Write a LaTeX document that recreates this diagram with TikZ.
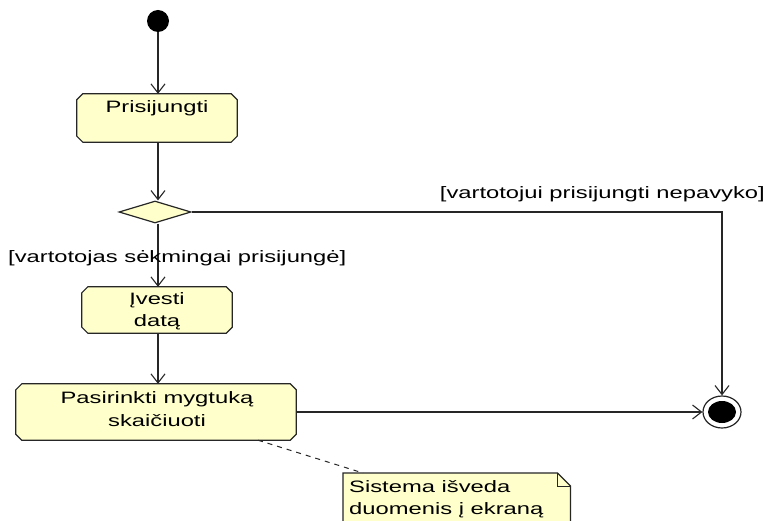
\documentclass[tikz,border=0pt]{standalone}
\usepackage{fontspec}
\setmainfont{Liberation Sans}[FakeStretch=1.44]
\usetikzlibrary{shapes.geometric,arrows.meta}
\definecolor{actfill}{HTML}{FFFFCC}
\definecolor{edgecol}{HTML}{262626}
\tikzset{
  flow/.style={draw=edgecol, line width=1.2pt,
    -{Straight Barb[length=9pt,width=14pt,line width=1.1pt]}},
  action/.style={rectangle, inner sep=0pt},
  boxline/.style={draw=edgecol, line width=1.2pt, fill=actfill},
  lbl/.style={font=\fontsize{16.5}{22.5}\selectfont, inner sep=0pt, text=black},
  notelink/.style={draw=edgecol, line width=1pt, dash pattern=on 5pt off 5pt},
}
% outline of an action box with cut corners, drawn round a named node
\newcommand\actionoutline[1]{%
  \draw[boxline]
    ([xshift=6pt]#1.north west) -- ([xshift=-6pt]#1.north east)
    -- ([yshift=-6pt]#1.north east) -- ([yshift=6pt]#1.south east)
    -- ([xshift=-6pt]#1.south east) -- ([xshift=6pt]#1.south west)
    -- ([yshift=6pt]#1.south west) -- ([yshift=-6pt]#1.north west) -- cycle;}
\begin{document}
\begin{tikzpicture}[x=1pt,y=-1pt]
  \clip (0,0) rectangle (768,521);
  \fill[white] (0,0) rectangle (768,521);

  % initial and final states
  \node[circle, fill=black, minimum size=22pt, inner sep=0pt] (start) at (158,21) {};
  \node[ellipse, draw=edgecol, line width=1.2pt, fill=white,
        minimum width=38pt, minimum height=32pt, inner sep=0pt] (final) at (722,412) {};
  \node[ellipse, fill=black, minimum width=28pt, minimum height=22pt, inner sep=0pt]
        (finalDot) at (final.center) {};

  % actions
  \node[action, minimum width=160pt, minimum height=48pt] (login) at (157,118) {};
  \actionoutline{login}
  \node[lbl, anchor=north] (loginText) at (157,100) {Prisijungti};

  \node[diamond, draw=edgecol, line width=1.2pt, fill=actfill,
        minimum width=72pt, minimum height=22pt, inner sep=0pt] (choice) at (155,212) {};

  \node[action, minimum width=150pt, minimum height=46pt] (enter) at (157,310) {};
  \actionoutline{enter}
  \node[lbl, align=center] (enterText) at (157,311) {Įvesti\\datą};

  \node[action, minimum width=280pt, minimum height=56pt] (pick) at (156,412) {};
  \actionoutline{pick}
  \node[lbl, align=center] (pickText) at (157,409) {Pasirinkti mygtuką\\skaičiuoti};

  % control flow
  \draw[flow] (start) -- (start |- login.north);
  \draw[flow] (login.south -| start) -- (choice.north -| start);
  \draw[flow] (choice.south -| start) -- (enter.north -| start);
  \draw[flow] (enter.south -| start) -- (pick.north -| start);
  \draw[flow] (choice.east) -| (final.north);
  \draw[flow] (pick.east) -- (final.west);

  % guards
  \node[lbl, anchor=south east] (guardFail) at (765,202) {[vartotojui prisijungti nepavyko]};
  \node[lbl, anchor=west] (guardOk) at (8,258) {[vartotojas sėkmingai prisijungė]};

  % note with folded corner
  \node[minimum width=227pt, minimum height=70pt, inner sep=0pt, anchor=north west]
        (note) at (343,473) {};
  \draw[edgecol, line width=1.2pt, fill=actfill]
        (note.south west) -- (note.north west) -- ([xshift=-13pt]note.north east)
        -- ([yshift=-13pt]note.north east) -- (note.south east);
  \draw[edgecol, line width=1pt]
        ([xshift=-13pt]note.north east) -- ([xshift=-13pt,yshift=-13pt]note.north east)
        -- ([yshift=-13pt]note.north east);
  \node[lbl, anchor=north west, align=left] (noteText) at (349,480)
        {Sistema išveda\\duomenis į ekraną};
  \draw[notelink] ([xshift=102pt]pick.south) -- ([xshift=20pt]note.north west);
\end{tikzpicture}
\end{document}
